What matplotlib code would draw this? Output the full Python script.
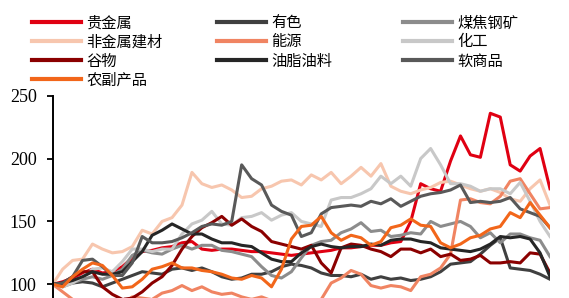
import numpy as np
import matplotlib
matplotlib.use('Agg')
from matplotlib import pyplot as plt
from matplotlib.lines import Line2D

plt.rcParams['font.family'] = ['Noto Sans CJK SC', 'DejaVu Sans']

names = ['贵金属', '有色', '煤焦钢矿', '非金属建材', '能源', '化工',
         '谷物', '油脂油料', '软商品', '农副产品']
colors = ['#E00012', '#404040', '#8C8C8C', '#F7C6AE', '#F08462', '#C8C8C8',
          '#8B0000', '#262626', '#595959', '#F2661A']

# index values, weekly-ish samples
precious = [100, 102, 105, 109, 112, 109, 110, 114, 121, 126, 127, 129, 130, 133, 134, 128, 127,
            128, 128, 127, 126, 126, 125, 124, 123, 124, 125, 126, 127, 129, 129, 130, 131, 131,
            133, 134, 150, 180, 176, 174, 198, 218, 203, 201, 236, 233, 195, 190, 202, 208, 176]
nonferrous = [100, 99, 101, 102, 101, 98, 101, 104, 107, 110, 109, 108, 112, 113, 111, 113, 110,
              106, 104, 105, 108, 108, 110, 114, 116, 115, 113, 109, 107, 107, 106, 108, 104, 106,
              104, 105, 103, 104, 106, 110, 116, 117, 118, 124, 131, 137, 113, 112, 111, 108, 104]
coal_steel = [100, 98, 101, 104, 106, 104, 107, 112, 123, 127, 125, 124, 128, 131, 128, 131, 131,
              127, 126, 124, 122, 114, 107, 105, 110, 121, 131, 134, 135, 141, 144, 149, 142, 143,
              138, 139, 141, 140, 150, 146, 148, 150, 146, 137, 141, 133, 140, 140, 137, 135, 122]
building = [100, 112, 119, 120, 132, 128, 125, 126, 130, 143, 140, 150, 153, 163, 189, 180, 177,
            179, 175, 169, 170, 176, 178, 182, 183, 179, 187, 183, 189, 180, 186, 193, 186, 196,
            178, 174, 172, 175, 177, 181, 182, 179, 176, 174, 176, 173, 168, 166, 176, 183, 163]
energy = [100, 94, 88, 85, 84, 84, 83, 84, 90, 89, 88, 93, 95, 99, 95, 98, 94, 92, 93, 90, 88,
          90, 87, 86, 85, 84, 84, 88, 101, 105, 111, 108, 99, 97, 99, 98, 95, 106, 108, 113, 124,
          167, 168, 165, 164, 170, 182, 184, 172, 160, 161]
chemical = [100, 98, 101, 106, 112, 113, 110, 118, 128, 128, 126, 128, 128, 140, 148, 151, 158,
            148, 147, 153, 154, 157, 151, 155, 157, 150, 148, 146, 167, 169, 169, 172, 176, 186,
            180, 186, 178, 200, 208, 195, 180, 180, 178, 174, 176, 176, 172, 181, 166, 150, 138]
grain = [100, 101, 106, 110, 110, 98, 92, 88, 89, 94, 101, 106, 115, 128, 138, 145, 149, 154, 147,
         152, 146, 142, 134, 132, 130, 128, 131, 117, 109, 129, 132, 131, 128, 126, 122, 128, 128,
         125, 128, 122, 124, 119, 120, 123, 117, 117, 118, 117, 125, 124, 109]
oilseed = [100, 101, 103, 106, 110, 108, 108, 110, 118, 126, 139, 143, 148, 144, 140, 140, 136,
           133, 133, 131, 130, 125, 120, 118, 118, 125, 130, 132, 130, 129, 130, 130, 132, 131,
           135, 136, 136, 134, 133, 129, 128, 127, 126, 128, 132, 138, 137, 138, 136, 125, 106]
softs = [100, 101, 106, 119, 120, 114, 107, 107, 117, 138, 133, 133, 134, 137, 141, 146, 148, 147,
         150, 195, 184, 179, 163, 158, 155, 138, 141, 156, 161, 162, 163, 162, 166, 164, 168, 162,
         166, 170, 172, 173, 175, 179, 165, 166, 165, 166, 169, 160, 157, 154, 145]
agri = [100, 98, 106, 112, 117, 115, 107, 97, 98, 104, 112, 114, 117, 113, 113, 111, 110, 108, 105,
        104, 107, 105, 98, 112, 136, 146, 147, 154, 141, 135, 139, 137, 131, 134, 145, 147, 152,
        147, 146, 133, 129, 132, 137, 139, 144, 146, 157, 153, 165, 155, 145]

series = [precious, nonferrous, coal_steel, building, energy, chemical, grain, oilseed, softs, agri]
yticks = [100, 150, 200, 250]

fig = plt.figure(figsize=(5.69, 2.98), dpi=100)
ax = fig.add_axes([0.0926, 0.0, 0.874, 0.6789])

x = np.arange(len(precious))
for vals, c in zip(series, colors):
    ax.plot(x, vals, color=c, linewidth=2.2, solid_joinstyle='round')

ax.set_xlim(0, len(precious) - 1)
ax.set_ylim(89.1, 250)
ax.set_yticks(yticks)
ax.set_yticklabels([str(t) for t in yticks], family='Liberation Serif', fontsize=13)
ax.tick_params(axis='y', direction='out', length=4.5, width=1.3, pad=7, colors='black')
ax.tick_params(axis='x', bottom=False, labelbottom=False)
for s in ['top', 'right', 'bottom']:
    ax.spines[s].set_visible(False)
ax.spines['left'].set_linewidth(1.4)
ax.spines['left'].set_bounds(89.1, 250)

# legend: 3 columns laid out row by row like the source
cols = [[0, 3, 6, 9], [1, 4, 7], [2, 5, 8]]
col_x = [0.0562, 0.381, 0.708]
for idx, cx in zip(cols, col_x):
    handles = [Line2D([], [], color=colors[i], linewidth=3) for i in idx]
    labels = [names[i] for i in idx]
    fig.legend(handles, labels, loc='upper left', bbox_to_anchor=(cx, 0.952),
               frameon=False, fontsize=11, handlelength=3.2, handletextpad=0.35,
               labelspacing=0.14, borderpad=0, borderaxespad=0)

fig.savefig('out.png', dpi=100)
plt.close(fig)
